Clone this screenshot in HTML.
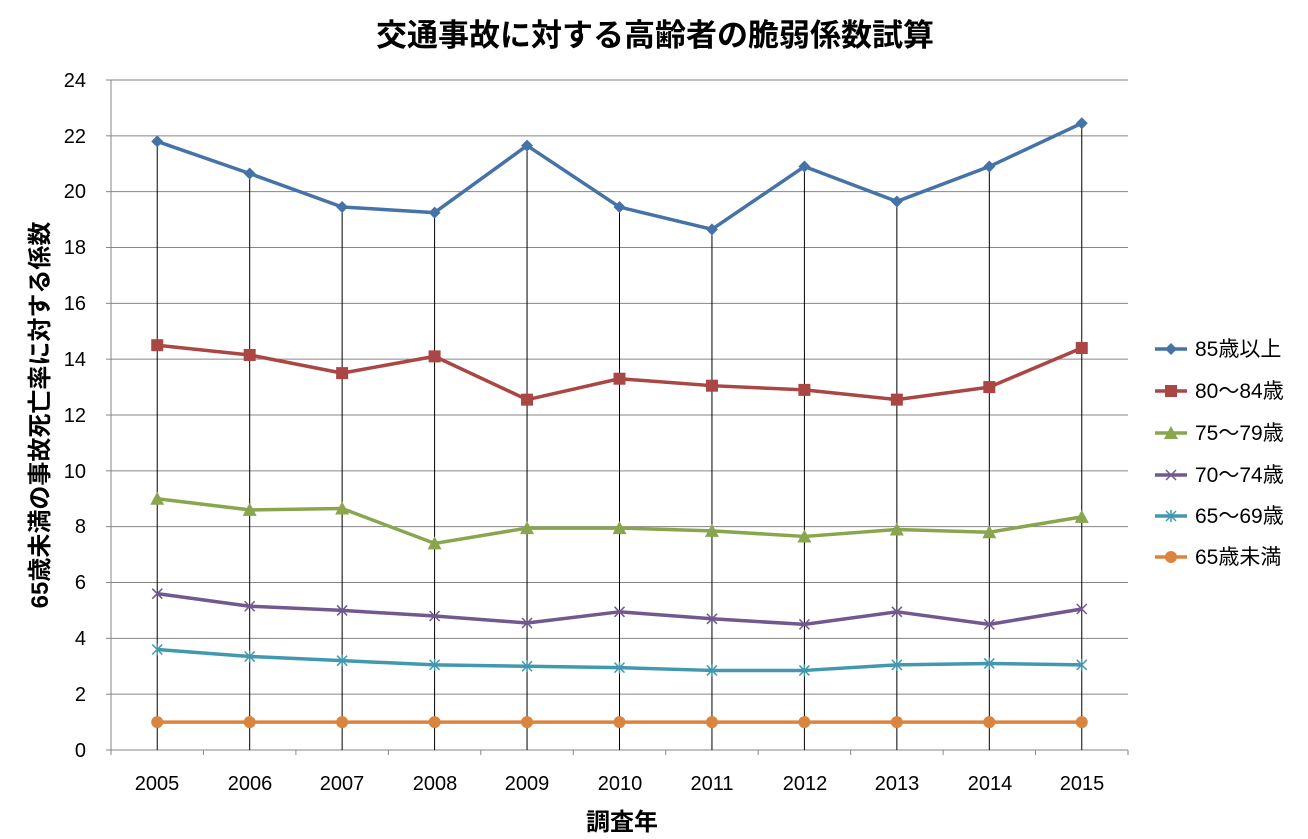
<!DOCTYPE html>
<html><head><meta charset="utf-8">
<style>
html,body{margin:0;padding:0;background:#fff;}
svg{display:block;font-family:"Liberation Sans","Noto Sans CJK JP",sans-serif;}
</style></head>
<body>
<svg id="c" width="1308" height="839" viewBox="0 0 1308 839" xmlns="http://www.w3.org/2000/svg">
<rect width="1308" height="839" fill="#fff"/>
<text x="655" y="46" text-anchor="middle" font-size="31" font-weight="bold" fill="#000">交通事故に対する高齢者の脆弱係数試算</text>
<g id="grid"></g>
<g font-size="20" fill="#000" text-anchor="end">
<text x="86" y="757">0</text><text x="86" y="701">2</text><text x="86" y="645">4</text><text x="86" y="589">6</text><text x="86" y="533">8</text><text x="86" y="478">10</text><text x="86" y="422">12</text><text x="86" y="366">14</text><text x="86" y="310">16</text><text x="86" y="254">18</text><text x="86" y="198">20</text><text x="86" y="143">22</text><text x="86" y="87">24</text>
</g>
<g font-size="20" fill="#000" text-anchor="middle">
<text x="157" y="790">2005</text><text x="250" y="790">2006</text><text x="342" y="790">2007</text><text x="435" y="790">2008</text><text x="527" y="790">2009</text><text x="620" y="790">2010</text><text x="712" y="790">2011</text><text x="805" y="790">2012</text><text x="897" y="790">2013</text><text x="990" y="790">2014</text><text x="1082" y="790">2015</text>
</g>
<text x="622" y="830" text-anchor="middle" font-size="24" font-weight="bold">調査年</text>
<text transform="translate(48,415) rotate(-90)" text-anchor="middle" font-size="24" font-weight="bold">65歳未満の事故死亡率に対する係数</text>
<g id="series"></g>
<g font-size="21" fill="#000">
<text x="1195" y="356">85歳以上</text>
<text x="1195" y="398">80～84歳</text>
<text x="1195" y="440">75～79歳</text>
<text x="1195" y="482">70～74歳</text>
<text x="1195" y="523">65～69歳</text>
<text x="1195" y="564">65歳未満</text>
</g>
</svg>
<script>
var NS="http://www.w3.org/2000/svg";
function el(p,t,a){var e=document.createElementNS(NS,t);for(var k in a)e.setAttribute(k,a[k]);p.appendChild(e);return e;}
var L=111,R=1128,T=80,B=750;
function Y(v){return B-v*(B-T)/24;}
function X(i){return L+(R-L)/11*(i+0.5);}
var g=document.getElementById('grid');
for(var v=2;v<=24;v+=2)el(g,'line',{x1:L,x2:R,y1:Y(v),y2:Y(v),stroke:'#868686','stroke-width':1});
el(g,'line',{x1:L,x2:L,y1:T,y2:B,stroke:'#868686'});
el(g,'line',{x1:L,x2:R,y1:B,y2:B,stroke:'#868686'});
for(var v=0;v<=24;v+=2)el(g,'line',{x1:L-5,x2:L,y1:Y(v),y2:Y(v),stroke:'#868686'});
for(var i=0;i<=11;i++){var x=L+(R-L)/11*i;el(g,'line',{x1:x,x2:x,y1:B,y2:B+5,stroke:'#868686'});}
var D=[
[[21.8,20.65,19.45,19.25,21.65,19.45,18.65,20.9,19.65,20.9,22.45],'#4572A7','d'],
[[14.5,14.15,13.5,14.1,12.55,13.3,13.05,12.9,12.55,13.0,14.4],'#AA4643','s'],
[[9.0,8.6,8.65,7.4,7.95,7.95,7.85,7.65,7.9,7.8,8.35],'#89A54E','t'],
[[5.6,5.15,5.0,4.8,4.55,4.95,4.7,4.5,4.95,4.5,5.05],'#71588F','x'],
[[3.6,3.35,3.2,3.05,3.0,2.95,2.85,2.85,3.05,3.1,3.05],'#4198AF','a'],
[[1,1,1,1,1,1,1,1,1,1,1],'#DB843D','o']];
var s=document.getElementById('series');
for(var i=0;i<11;i++)el(s,'line',{x1:X(i),x2:X(i),y1:Y(D[0][0][i]),y2:B,stroke:'#000','stroke-width':1});
function mk(x,y,c,m){
 if(m=='d')el(s,'polygon',{points:(x)+','+(y-6)+' '+(x+6)+','+y+' '+x+','+(y+6)+' '+(x-6)+','+y,fill:c});
 else if(m=='s')el(s,'rect',{x:x-6,y:y-6,width:12,height:12,fill:c});
 else if(m=='t')el(s,'polygon',{points:x+','+(y-7)+' '+(x+7)+','+(y+6)+' '+(x-7)+','+(y+6),fill:c});
 else if(m=='x'){el(s,'path',{d:'M'+(x-5)+' '+(y-5)+'L'+(x+5)+' '+(y+5)+'M'+(x+5)+' '+(y-5)+'L'+(x-5)+' '+(y+5),stroke:c,'stroke-width':1.5});}
 else if(m=='a'){el(s,'path',{d:'M'+(x-5)+' '+(y-5)+'L'+(x+5)+' '+(y+5)+'M'+(x+5)+' '+(y-5)+'L'+(x-5)+' '+(y+5)+'M'+x+' '+(y-6)+'L'+x+' '+(y+6),stroke:c,'stroke-width':1.5});}
 else el(s,'circle',{cx:x,cy:y,r:6,fill:c});
}
var ly=[349,391,433,475,516,557];
D.slice().reverse().forEach(function(d){
 var p=d[0].map(function(v,i){return X(i)+','+Y(v);}).join(' ');
 el(s,'polyline',{points:p,fill:'none',stroke:d[1],'stroke-width':3.5,'stroke-linejoin':'round'});
 d[0].forEach(function(v,i){mk(X(i),Y(v),d[1],d[2]);});
});
D.forEach(function(d,k){
 el(s,'line',{x1:1155,x2:1187,y1:ly[k],y2:ly[k],stroke:d[1],'stroke-width':3.5});
 mk(1171,ly[k],d[1],d[2]);
});
</script>
</body></html>
